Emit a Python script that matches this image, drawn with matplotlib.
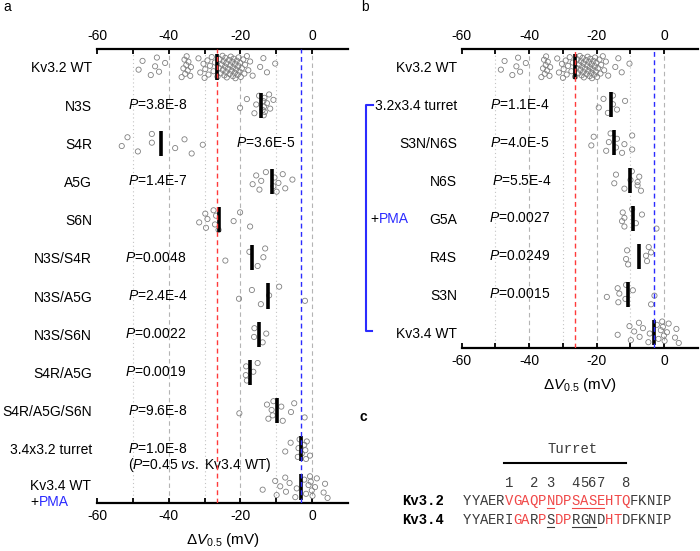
import numpy as np
import matplotlib
matplotlib.use('Agg')
import matplotlib.pyplot as plt
from matplotlib.lines import Line2D

plt.rcParams['font.family'] = ['Liberation Sans', 'DejaVu Sans']
plt.rcParams['mathtext.fontset'] = 'custom'
plt.rcParams['mathtext.rm'] = 'Liberation Sans'
plt.rcParams['mathtext.it'] = 'Liberation Sans:italic'
plt.rcParams['mathtext.bf'] = 'Liberation Sans:bold'
plt.rcParams['axes.unicode_minus'] = False

# ---------------- data (ΔV0.5, mV) ----------------
kv32_wt = [-48.4, -47.3, -45.0, -43.8, -43.3, -42.7, -41.0,
           -36.4, -35.9, -35.6, -35.4, -35.1, -35.0, -34.7, -34.5, -34.0, -33.8,
           -31.7, -31.2, -30.3, -30.0, -29.8, -29.2, -28.9, -28.5, -28.0, -27.5, -27.1,
           -26.4, -26.0, -25.8, -25.5, -25.2, -25.0, -24.9, -24.7, -24.5, -24.3, -24.2,
           -24.0, -23.9, -23.8, -23.5, -23.2, -23.0, -22.8, -22.7, -22.5, -22.3, -22.1,
           -22.0, -21.9, -21.6, -21.5, -21.4, -21.2, -21.0, -20.8, -20.6, -20.5, -20.3,
           -20.1, -19.9, -19.6, -19.2, -18.9, -18.7, -18.2, -17.8, -17.3, -16.6,
           -14.5, -13.6, -12.6, -10.3]
kv34_wt = [-13.8, -10.3, -9.9, -8.9, -7.5, -7.3, -6.3, -4.7, -4.3, -2.2, -1.7,
           -1.0, -0.6, -0.1, -0.4, 0.1, 0.8, 1.3, 3.2, 3.6, 4.3]
n3s = [-20.1, -18.2, -16.1, -15.6, -14.8, -13.8, -13.6, -13.5, -13.4, -13.3,
       -13.2, -12.6, -12.0, -11.7, -10.8]
s4r = [-53.1, -51.5, -48.6, -44.7, -44.7, -38.2, -35.6, -33.6, -30.5]
a5g = [-16.6, -15.6, -14.7, -14.2, -12.9, -10.8, -10.5, -9.9, -9.4, -8.2, -7.5, -5.5]
s6n = [-31.5, -29.8, -29.6, -29.2, -27.5, -27.1, -26.8, -26.1, -21.9, -20.1, -17.3]
n3s_s4r = [-24.2, -17.5, -15.2, -13.6, -13.1]
n3s_a5g = [-20.4, -16.8, -14.3, -12.0, -9.2, -2.0]
n3s_s6n = [-16.2, -16.1, -13.8, -12.8]
s4r_a5g = [-18.5, -18.4, -18.2, -16.4, -15.2]
s4r_a5g_s6n = [-20.3, -12.6, -12.2, -11.3, -10.8, -11.0, -8.6, -8.2, -5.9, -5.0, -2.1]
t34x32 = [-7.5, -6.0, -4.0, -3.8, -3.5, -2.9, -2.2, -1.7, -1.9, -1.5, -0.6]

t32x34 = [-19.4, -18.0, -16.7, -15.2, -15.2, -14.0, -11.6]
s3n_n6s = [-21.6, -20.9, -17.2, -16.4, -15.9, -14.3, -14.0, -12.5, -11.8, -9.5, -9.5]
n6s = [-14.8, -14.3, -11.8, -10.0, -9.6, -7.9, -7.4, -6.9, -7.9]
g5a = [-12.5, -12.3, -11.8, -11.8, -9.5, -8.4, -6.6, -2.3]
r4s = [-11.3, -11.0, -10.7, -5.4, -4.6, -5.1, -3.9]
s3n = [-17.0, -13.8, -13.6, -13.3, -11.3, -11.5, -9.3, -3.9, -2.9]

labels_a = ['Kv3.2 WT', 'N3S', 'S4R', 'A5G', 'S6N', 'N3S/S4R', 'N3S/A5G',
            'N3S/S6N', 'S4R/A5G', 'S4R/A5G/S6N', '3.4x3.2 turret', '']
data_a = [kv32_wt, n3s, s4r, a5g, s6n, n3s_s4r, n3s_a5g, n3s_s6n, s4r_a5g,
          s4r_a5g_s6n, t34x32, kv34_wt]
pvals_a = ['', '3.8E-8', '3.6E-5', '1.4E-7', '', '0.0048', '2.4E-4', '0.0022',
           '0.0019', '9.6E-8', '1.0E-8', '']

labels_b = ['Kv3.2 WT', '3.2x3.4 turret', 'S3N/N6S', 'N6S', 'G5A', 'R4S', 'S3N', 'Kv3.4 WT']
data_b = [kv32_wt, t32x34, s3n_n6s, n6s, g5a, r4s, s3n, kv34_wt]
pvals_b = ['', '1.1E-4', '4.0E-5', '5.5E-4', '0.0027', '0.0249', '0.0015', '']

seq_kv32 = 'YYAERVGAQPNDPSASEHTQFKNIP'
seq_kv34 = 'YYAERIGARPSDPRGNDHTDFKNIP'
site_numbers = '     1  2 3  4567  8'

# ---------------- layout ----------------
W, H = 700, 551
fig = plt.figure(figsize=(7.0, 5.51), dpi=100)

def fx(x):
    return x / W

def fy(y):
    return 1 - y / H

p_x_a = [None, -51.3, -21.2, -51.3, None, -52.1, -51.3, -52.1, -52.1, -51.3, -51.3, None]
p_x_b = [None, -51.6, -51.6, -50.9, -51.9, -51.9, -51.9, None]

GRAY = '#808080'
RED = '#ff3b3b'
BLUE = '#2b2bff'


def jitter(n, amp=0.3):
    k = np.arange(1, n + 1)
    return ((k * 0.6180339887) % 1.0 - 0.5) * 2 * amp


def panel(ax, data, labels, pvals, pxs, ylim):
    n = len(data)
    ax.set_xlim(-60, 10)
    ax.set_ylim(*ylim)
    m32 = np.mean(kv32_wt)
    m34 = np.mean(kv34_wt)
    for v in [-50, -30, -10]:
        ax.axvline(v, color='#c4c4c4', lw=0.8, ls=(0, (1, 2.5)), zorder=1)
    for v in [-40, -20, 0]:
        ax.axvline(v, color='#b4b4b4', lw=0.8, ls=(0, (4, 3)), zorder=1)
    ax.axvline(m32, color=RED, lw=1.0, ls=(0, (3.5, 2.5)), zorder=6)
    ax.axvline(m34, color=BLUE, lw=1.0, ls=(0, (3.5, 2.5)), zorder=6)
    for i, vals in enumerate(data):
        vals = np.asarray(vals)
        ax.scatter(vals, i + jitter(len(vals)), s=14, facecolors='none',
                   edgecolors=GRAY, linewidths=0.6, zorder=3)
        m = vals.mean()
        ax.plot([m, m], [i - 0.33, i + 0.33], color='black', lw=2.6,
                solid_capstyle='butt', zorder=5)
        if pvals[i]:
            ax.text(pxs[i], i, r'$\mathit{P}$=' + pvals[i], ha='left', va='center',
                    fontsize=10, color='black')
    ax.set_yticks(range(n))
    ax.set_yticklabels(labels, fontsize=10)
    ax.tick_params(axis='y', length=0, pad=3.5)
    for s in ['left', 'right']:
        ax.spines[s].set_visible(False)
    for s in ['top', 'bottom']:
        ax.spines[s].set_linewidth(1.6)
    ax.set_xticks([-60, -40, -20, 0])
    ax.set_xticks([-50, -30, -10], minor=True)
    ax.tick_params(axis='x', which='both', direction='in', top=True, bottom=True,
                   labeltop=True, labelbottom=True, length=3.5, width=1.3,
                   labelsize=10, pad=4)
    ax.set_xlabel(r'Δ$\mathit{V}_{\mathrm{0.5}}$ (mV)', fontsize=11, labelpad=6)


# panel a
axa = fig.add_axes([fx(97), fy(503), fx(348) - fx(97), fy(49) - fy(503)])
panel(axa, data_a, labels_a, pvals_a, p_x_a, (11.42, -0.47))
axa.text(-51.3, 10.42, r'($\mathit{P}$=0.45 $\mathit{vs.}$ Kv3.4 WT)', ha='left',
         va='center', fontsize=10)
fig.text(fx(30), fy(486), 'Kv3.4 WT', fontsize=10, ha='left', va='center')
fig.text(fx(30), fy(502), '+', fontsize=10, ha='left', va='center')
fig.text(fx(38.5), fy(502), 'PMA', fontsize=10, ha='left', va='center', color=BLUE)

# panel b
axb = fig.add_axes([fx(461.7), fy(348), fx(698) - fx(461.7), fy(49) - fy(348)])
panel(axb, data_b, labels_b, pvals_b, p_x_b, (7.42, -0.475))
fig.add_artist(Line2D([fx(373), fx(366), fx(366), fx(372)],
                      [fy(105), fy(105), fy(331), fy(331)], color=BLUE, lw=1.5))
fig.text(fx(370), fy(219), '+', fontsize=10, ha='left', va='center')
fig.text(fx(378.5), fy(219), 'PMA', fontsize=10, ha='left', va='center', color=BLUE)

# panel letters
fig.text(fx(3), fy(7), 'a', fontsize=10, ha='left', va='center')
fig.text(fx(361), fy(7), 'b', fontsize=10, ha='left', va='center')
fig.text(fx(360), fy(417), 'c', fontsize=10, ha='left', va='center', fontweight='bold')

# panel c: sequence alignment
MONO = 'Liberation Mono'
x0 = 463.0
cw = 8.34
SEQRED = '#f04848'
SEQBLK = '#3a3a3a'
fig.text(fx(573), fy(449), 'Turret', family=MONO, fontsize=10, ha='center',
         va='center', color=SEQBLK)
fig.add_artist(Line2D([fx(504), fx(626)], [fy(463), fy(463)], color='black', lw=1.5))
for i, ch in enumerate(site_numbers):
    if ch != ' ':
        fig.text(fx(x0 + cw * i), fy(483), ch, family=MONO, fontsize=10,
                 ha='left', va='center', color=SEQBLK)

fig.text(fx(444), fy(501), 'Kv3.2', family=MONO, fontsize=10, fontweight='bold',
         ha='right', va='center')
fig.text(fx(444), fy(520), 'Kv3.4', family=MONO, fontsize=10, fontweight='bold',
         ha='right', va='center')

turret_idx = range(5, 20)
under32 = [10, 13, 14, 15, 16]
under34 = [10, 13, 14, 15]
for i, ch in enumerate(seq_kv32):
    col = SEQRED if i in turret_idx else SEQBLK
    fig.text(fx(x0 + cw * i), fy(501), ch, family=MONO, fontsize=10,
             ha='left', va='center', color=col)
for i, ch in enumerate(seq_kv34):
    same = (i in turret_idx) and (ch == seq_kv32[i])
    col = SEQRED if same else SEQBLK
    fig.text(fx(x0 + cw * i), fy(520), ch, family=MONO, fontsize=10,
             ha='left', va='center', color=col)


def underline(idx, y, color):
    groups = []
    for i in idx:
        if groups and i == groups[-1][-1] + 1:
            groups[-1].append(i)
        else:
            groups.append([i])
    for g in groups:
        fig.add_artist(Line2D([fx(x0 + cw * g[0] + 0.5), fx(x0 + cw * (g[-1] + 1) - 0.5)],
                              [fy(y), fy(y)], color=color, lw=0.8))


underline(under32, 507.5, SEQRED)
underline(under34, 527.0, SEQBLK)

fig.savefig('out.png', dpi=100)
